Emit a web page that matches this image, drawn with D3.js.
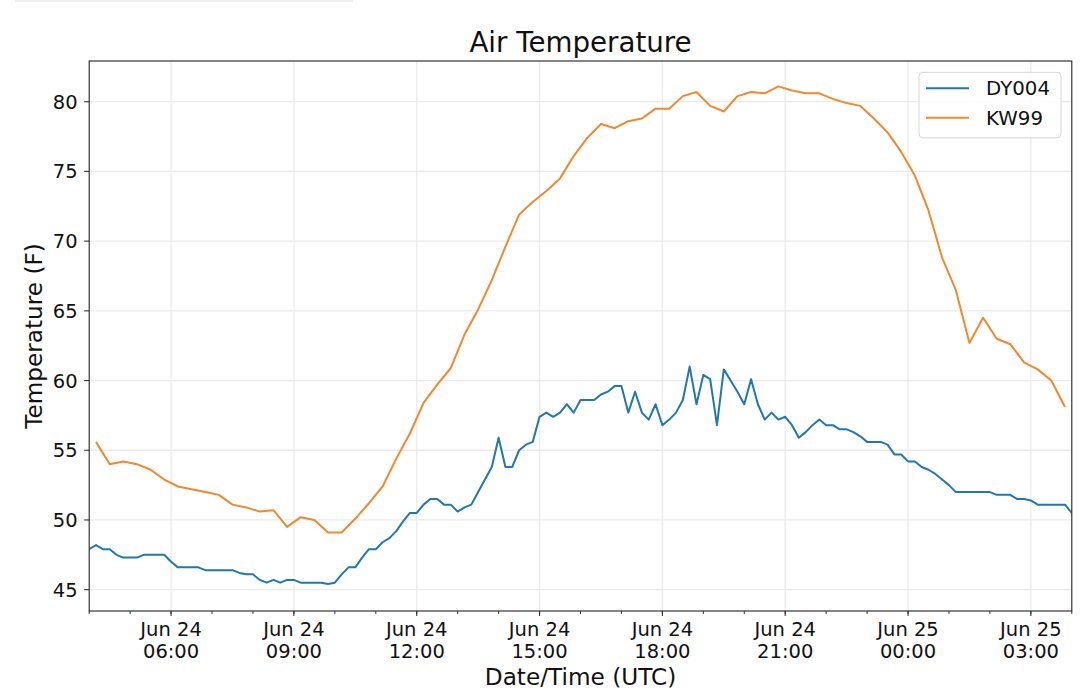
<!DOCTYPE html>
<html>
<head>
<meta charset="utf-8">
<script src="https://cdn.jsdelivr.net/npm/d3@7"></script>
<style>
  body { margin: 0; background: #fff; }
  text { font-family: "DejaVu Sans", sans-serif; fill: #111; }
</style>
</head>
<body>
<div id="chart"></div>
<script>
// series names (legend order)
const seriesNames = ['DY004', 'KW99'];

// DY004: 10 minute readings, Jun 24 04:00 UTC onwards
const dyStart = Date.UTC(2018, 5, 24, 4, 0);
const dyStepMinutes = 10;
const dyValues = [
  47.9, 48.2, 47.9, 47.9, 47.5, 47.3, 47.3, 47.3, 47.5, 47.5,
  47.5, 47.5, 47.0, 46.6, 46.6, 46.6, 46.6, 46.4, 46.4, 46.4,
  46.4, 46.4, 46.2, 46.1, 46.1, 45.7, 45.5, 45.7, 45.5, 45.7,
  45.7, 45.5, 45.5, 45.5, 45.5, 45.4, 45.5, 46.1, 46.6, 46.6,
  47.3, 47.9, 47.9, 48.4, 48.7, 49.2, 49.9, 50.5, 50.5, 51.1,
  51.5, 51.5, 51.1, 51.1, 50.6, 50.9, 51.1, 52.0, 52.9, 53.8,
  55.9, 53.8, 53.8, 55.0, 55.4, 55.6, 57.4, 57.7, 57.4, 57.7,
  58.3, 57.7, 58.6, 58.6, 58.6, 59.0, 59.2, 59.6, 59.6, 57.7,
  59.2, 57.7, 57.2, 58.3, 56.8, 57.2, 57.7, 58.6, 61.0, 58.3,
  60.4, 60.1, 56.8, 60.8, 60.0, 59.2, 58.3, 60.1, 58.3, 57.2,
  57.7, 57.2, 57.4, 56.8, 55.9, 56.3, 56.8, 57.2, 56.8, 56.8,
  56.5, 56.5, 56.3, 56.0, 55.6, 55.6, 55.6, 55.4, 54.7, 54.7,
  54.2, 54.2, 53.8, 53.6, 53.3, 52.9, 52.5, 52.0, 52.0, 52.0,
  52.0, 52.0, 52.0, 51.8, 51.8, 51.8, 51.5, 51.5, 51.4, 51.1,
  51.1, 51.1, 51.1, 51.1, 50.5,
];

// KW99: 20 minute reports, Jun 24 04:10 UTC onwards
const kwStart = Date.UTC(2018, 5, 24, 4, 10);
const kwStepMinutes = 20;
const kwValues = [
  55.6, 54.0, 54.2, 54.0, 53.6, 52.9, 52.4, 52.2, 52.0, 51.8,
  51.1, 50.9, 50.6, 50.7, 49.5, 50.2, 50.0, 49.1, 49.1, 50.1,
  51.2, 52.4, 54.4, 56.2, 58.4, 59.7, 60.9, 63.3, 65.1, 67.2,
  69.6, 71.9, 72.8, 73.6, 74.5, 76.1, 77.4, 78.4, 78.1, 78.6,
  78.8, 79.5, 79.5, 80.4, 80.7, 79.7, 79.3, 80.4, 80.7, 80.6,
  81.1, 80.8, 80.6, 80.6, 80.2, 79.9, 79.7, 78.8, 77.8, 76.4,
  74.7, 72.2, 68.8, 66.5, 62.7, 64.5, 63.0, 62.6, 61.3, 60.8,
  60.0, 58.1,
];

// axis ticks
const yTicks = [45, 50, 55, 60, 65, 70, 75, 80];
const xDomain = [Date.UTC(2018, 5, 24, 4, 0), Date.UTC(2018, 5, 25, 4, 0)];
const yDomain = [43.47, 82.92];

const colors = ['#2177b0', '#f0892e'];

const toPoints = (start, step, values) =>
  values.map((v, i) => ({ t: new Date(start + i * step * 60000), v }));

const series = [
  toPoints(dyStart, dyStepMinutes, dyValues),
  toPoints(kwStart, kwStepMinutes, kwValues),
];

const W = 1080;
const H = 696;
const margin = { top: 61, right: 8.2, bottom: 85, left: 89.2 };
const width = W - margin.left - margin.right;
const height = H - margin.top - margin.bottom;

const svg = d3.select('#chart').append('svg')
  .attr('width', W)
  .attr('height', H);

// faint strip along the top edge of the screenshot
svg.append('rect')
  .attr('x', 15).attr('y', 0)
  .attr('width', 338).attr('height', 2)
  .attr('fill', '#efefef');

const g = svg.append('g')
  .attr('transform', `translate(${margin.left},${margin.top})`);

const x = d3.scaleUtc().domain(xDomain).range([0, width]);
const y = d3.scaleLinear().domain(yDomain).range([height, 0]);

const majorTicks = d3.utcHour.every(3).range(new Date(xDomain[0]), new Date(xDomain[1]))
  .filter(d => d > xDomain[0]);
const minorTicks = d3.utcHour.every(1).range(new Date(xDomain[0]), new Date(xDomain[1] + 1));

// grid
g.append('g').selectAll('line')
  .data(majorTicks)
  .enter().append('line')
  .attr('x1', d => x(d)).attr('x2', d => x(d))
  .attr('y1', 0).attr('y2', height)
  .attr('stroke', '#ebebeb')
  .attr('stroke-width', 1.3);

g.append('g').selectAll('line')
  .data(yTicks)
  .enter().append('line')
  .attr('x1', 0).attr('x2', width)
  .attr('y1', d => y(d)).attr('y2', d => y(d))
  .attr('stroke', '#ebebeb')
  .attr('stroke-width', 1.3);

// lines
g.append('clipPath').attr('id', 'plot-clip')
  .append('rect').attr('width', width).attr('height', height);

const line = d3.line()
  .x(d => x(d.t))
  .y(d => y(d.v));

g.append('g').attr('clip-path', 'url(#plot-clip)')
  .selectAll('path')
  .data(series)
  .enter().append('path')
  .attr('d', line)
  .attr('fill', 'none')
  .attr('stroke', (d, i) => colors[i])
  .attr('stroke-width', 2)
  .attr('stroke-linejoin', 'round');

// frame
g.append('rect')
  .attr('width', width)
  .attr('height', height)
  .attr('fill', 'none')
  .attr('stroke', '#222')
  .attr('stroke-width', 1.1);

// x axis: minor ticks, major ticks with two-line labels
const xAxis = g.append('g').attr('transform', `translate(0,${height})`);

xAxis.selectAll('.minor')
  .data(minorTicks)
  .enter().append('line')
  .attr('class', 'minor')
  .attr('x1', d => x(d)).attr('x2', d => x(d))
  .attr('y1', 0).attr('y2', 3)
  .attr('stroke', '#333');

const fmtDay = d3.utcFormat('%b %d');
const fmtTime = d3.utcFormat('%H:%M');

const xTick = xAxis.selectAll('.major')
  .data(majorTicks)
  .enter().append('g')
  .attr('class', 'major')
  .attr('transform', d => `translate(${x(d)},0)`);

xTick.append('line')
  .attr('y2', 5)
  .attr('stroke', '#333')
  .attr('stroke-width', 1.1);

xTick.append('text')
  .attr('text-anchor', 'middle')
  .attr('y', 24.7)
  .style('font-size', '19.5px')
  .text(fmtDay);

xTick.append('text')
  .attr('text-anchor', 'middle')
  .attr('y', 47.3)
  .style('font-size', '19.5px')
  .text(fmtTime);

// y axis
const yTick = g.append('g').selectAll('g')
  .data(yTicks)
  .enter().append('g')
  .attr('transform', d => `translate(0,${y(d)})`);

yTick.append('line')
  .attr('x1', -5).attr('x2', 0)
  .attr('stroke', '#333')
  .attr('stroke-width', 1.1);

yTick.append('text')
  .attr('x', -11.5)
  .attr('dy', '0.36em')
  .attr('text-anchor', 'end')
  .style('font-size', '19.5px')
  .text(d => d);

// titles
svg.append('text')
  .attr('x', margin.left + width / 2)
  .attr('y', 51.7)
  .attr('text-anchor', 'middle')
  .style('font-size', '27.7px')
  .text('Air Temperature');

svg.append('text')
  .attr('x', margin.left + width / 2)
  .attr('y', 685)
  .attr('text-anchor', 'middle')
  .style('font-size', '23.2px')
  .text('Date/Time (UTC)');

svg.append('text')
  .attr('transform', `translate(42,${margin.top + height / 2}) rotate(-90)`)
  .attr('text-anchor', 'middle')
  .style('font-size', '23.2px')
  .text('Temperature (F)');

// legend
const legend = svg.append('g').attr('transform', 'translate(919,72.3)');

legend.append('rect')
  .attr('width', 142)
  .attr('height', 65.5)
  .attr('rx', 4)
  .attr('fill', '#fff')
  .attr('fill-opacity', 0.85)
  .attr('stroke', '#d6d6d6')
  .attr('stroke-width', 1);

const item = legend.selectAll('.item')
  .data(seriesNames)
  .enter().append('g')
  .attr('class', 'item')
  .attr('transform', (d, i) => `translate(0,${16 + i * 29.4})`);

item.append('line')
  .attr('x1', 7).attr('x2', 50)
  .attr('stroke', (d, i) => colors[i])
  .attr('stroke-width', 2);

item.append('text')
  .attr('x', 67)
  .attr('dy', '0.36em')
  .style('font-size', '19.8px')
  .text(d => d);
</script>
</body>
</html>
